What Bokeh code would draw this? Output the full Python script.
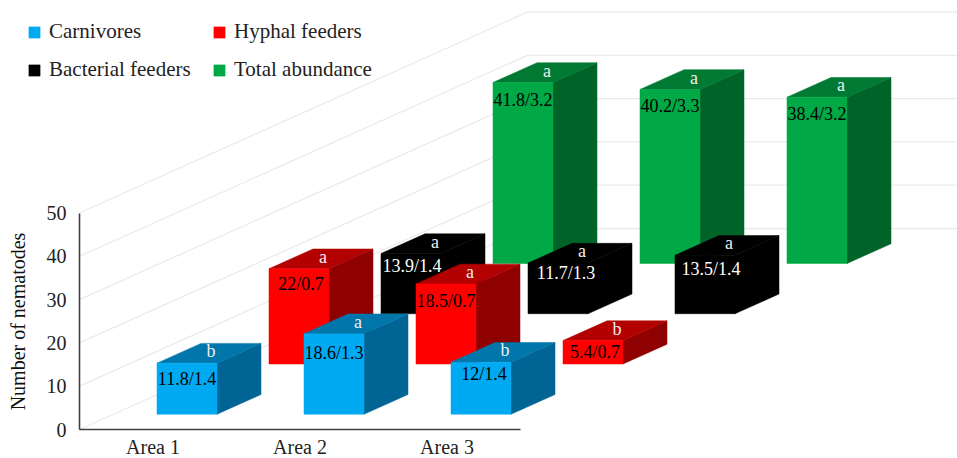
from bokeh.plotting import figure
from bokeh.models import ColumnDataSource, FixedTicker, Legend, LegendItem
from bokeh.core.properties import value
from bokeh.embed import file_html
from bokeh.resources import INLINE

# ---- data -------------------------------------------------------------
areas = ["Area 1", "Area 2", "Area 3"]
carnivores = [11.8, 18.6, 12]
carnivores_se = [1.4, 1.3, 1.4]
carnivores_sig = ["b", "a", "b"]
hyphal = [22, 18.5, 5.4]
hyphal_se = [0.7, 0.7, 0.7]
hyphal_sig = ["a", "a", "b"]
bacterial = [13.9, 11.7, 13.5]
bacterial_se = [1.4, 1.3, 1.4]
bacterial_sig = ["a", "a", "a"]
total = [41.8, 40.2, 38.4]
total_se = [3.2, 3.3, 3.2]
total_sig = ["a", "a", "a"]
y_ticks = [0, 10, 20, 30, 40, 50]

# ---- layout of the oblique projection ----------------------------------
PX_X = 147.0          # pixels per category
PX_Y = 4.33           # pixels per unit of value
ORIGIN_X, ORIGIN_Y = 79.0, 429.0   # page position of the axes corner
ROW_DX = 112.0 / PX_X  # shift per depth row, in category units
ROW_DY = 50.25 / PX_Y  # shift per depth row, in value units
BAR_W = 60.0 / PX_X
BAR_D = 0.393          # bar depth as a fraction of a row
N_ROWS = 4
SERIF = "Liberation Serif"

def proj(cat, row, v):
    return cat + row * ROW_DX, v + row * ROW_DY

series = [
    ("Carnivores", carnivores, carnivores_se, carnivores_sig,
     ("#00AAF2", "#0076AA", "#006494"), "black", [(0, 0), (0, 3), (3, -4)]),
    ("Hyphal feeders", hyphal, hyphal_se, hyphal_sig,
     ("#FF0000", "#B30000", "#8F0000"), "black", [(2, -1), (0, 1), (2, -5)]),
    ("Bacterial feeders", bacterial, bacterial_se, bacterial_sig,
     ("#000000", "#000000", "#000000"), "white", [(1, -4), (8, -6), (6, -2)]),
    ("Total abundance", total, total_se, total_sig,
     ("#00A846", "#007A33", "#006428"), "black", [(0, 1), (0, 1), (0, 1)]),
]

W, H = 957, 458
p = figure(width=W, height=H, output_backend="svg", toolbar_location=None,
           x_range=(-ORIGIN_X / PX_X, (W - ORIGIN_X) / PX_X),
           y_range=((ORIGIN_Y - H) / PX_Y, ORIGIN_Y / PX_Y),
           min_border=0,
           background_fill_color="white", border_fill_color="white",
           outline_line_color=None)
p.grid.visible = False

# ---- walls -------------------------------------------------------------
wall_xs, wall_ys = [], []
for t in y_ticks:
    x0, y0 = proj(0, 0, t)
    x1, y1 = proj(0, N_ROWS, t)
    wall_xs.append([x0, x1, p.x_range.end])
    wall_ys.append([y0, y1, y1])
p.multi_line(wall_xs, wall_ys, line_color="#EBEBEB", line_width=1.3)

# ---- bars, back row first ----------------------------------------------
legend_items = {}
for row in range(N_ROWS - 1, -1, -1):
    name, vals, ses, sigs, cols, txt, nudges = series[row]
    front_x, front_y, top_x, top_y, side_x, side_y = [], [], [], [], [], []
    label_rows = []
    inset = (1 - BAR_D) / 2
    for c, v in enumerate(vals):
        cx = c + (1 - BAR_W) / 2
        a = row + inset
        b = row + inset + BAR_D
        x_fl, y_fl = proj(cx, a, 0)
        x_fr, _ = proj(cx + BAR_W, a, 0)
        _, y_ft = proj(cx, a, v)
        x_bl, _ = proj(cx, b, 0)
        x_br, y_bb = proj(cx + BAR_W, b, 0)
        _, y_bt = proj(cx, b, v)
        front_x.append([x_fl, x_fr, x_fr, x_fl]); front_y.append([y_fl, y_fl, y_ft, y_ft])
        top_x.append([x_fl, x_fr, x_br, x_bl]); top_y.append([y_ft, y_ft, y_bt, y_bt])
        side_x.append([x_fr, x_br, x_br, x_fr]); side_y.append([y_fl, y_bb, y_bt, y_ft])
        nx, ny = nudges[c]
        label_rows.append(dict(x=(x_fl + x_fr) / 2 + nx / PX_X, y=y_ft - (16 + ny) / PX_Y,
                               t=f"{v}/{ses[c]}", col=txt))
        label_rows.append(dict(x=(x_fl + x_br) / 2 + 2 / PX_X, y=(y_ft + y_bt) / 2 + 2 / PX_Y,
                               t=sigs[c], col="#F0F0F0"))
    kw = dict(line_width=0.5)
    p.patches(side_x, side_y, fill_color=cols[2], line_color=cols[2], **kw)
    p.patches(top_x, top_y, fill_color=cols[1], line_color=cols[1], **kw)
    r = p.patches(front_x, front_y, fill_color=cols[0], line_color=cols[0], **kw)
    legend_items[name] = r
    src = ColumnDataSource({k: [d[k] for d in label_rows] for k in ("x", "y", "t", "col")})
    p.text("x", "y", text="t", source=src, text_color="col", text_align="center",
           text_baseline="middle", text_font=value(SERIF), text_font_size="18px")

# ---- axes --------------------------------------------------------------
ya = p.yaxis[0]
ya.fixed_location = 0
ya.bounds = (0, 50)
ya.ticker = FixedTicker(ticks=y_ticks)
ya.major_tick_line_color = None
ya.minor_tick_line_color = None
ya.axis_line_color = "#404040"
ya.axis_line_width = 1.6
ya.major_label_standoff = 7
ya.major_label_text_font = SERIF
ya.major_label_text_font_size = "20px"
ya.major_label_text_color = "#222222"
ya.axis_label = "Number of nematodes"
ya.axis_label_text_font = SERIF
ya.axis_label_text_font_style = "normal"
ya.axis_label_text_font_size = "20px"
ya.axis_label_text_color = "#111111"
ya.axis_label_standoff = 15

xa = p.xaxis[0]
xa.fixed_location = 0
xa.bounds = (0, 3)
xa.ticker = FixedTicker(ticks=[i + 0.5 for i in range(len(areas))])
xa.major_label_overrides = {i + 0.5: a for i, a in enumerate(areas)}
xa.major_tick_line_color = None
xa.minor_tick_line_color = None
xa.axis_line_color = "#404040"
xa.axis_line_width = 1.6
xa.major_label_standoff = 0
xa.major_label_text_font = SERIF
xa.major_label_text_font_size = "20px"
xa.major_label_text_color = "#222222"

# ---- legend (filled column by column) ------------------------------------
legend_order = ["Carnivores", "Bacterial feeders", "Hyphal feeders", "Total abundance"]
legend = Legend(items=[LegendItem(label=n, renderers=[legend_items[n]]) for n in legend_order],
                ncols=2, location=(27, H - 21 - 61), padding=0, margin=0, spacing=13,
                glyph_width=14, glyph_height=14, label_standoff=8, label_height=20, label_width=150,
                label_text_font=SERIF, label_text_font_size="21px", label_text_color="#222222",
                background_fill_alpha=0, border_line_color=None)
p.add_layout(legend, "center")

open("out.html", "w").write(file_html(p, INLINE))
